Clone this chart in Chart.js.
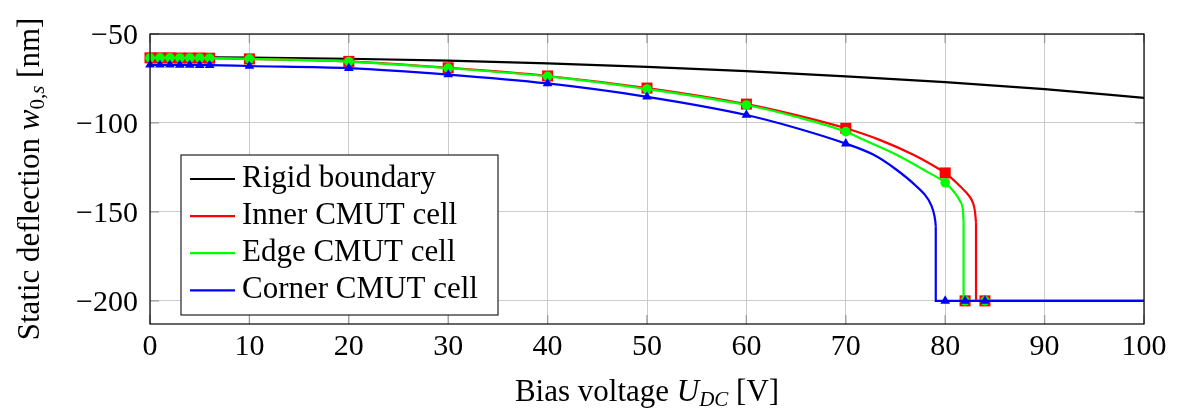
<!DOCTYPE html>
<html>
<head>
<meta charset="utf-8">
<script src="https://cdn.jsdelivr.net/npm/chart.js@4.4.0/dist/chart.umd.min.js"></script>
<style>
    html, body { margin: 0; padding: 0; background: #fff; }
    canvas { display: block; }
</style>
</head>
<body>
<canvas id="deflectionChart" width="1177" height="408"></canvas>
<script>
// Static deflection curves over bias voltage
const rigidVoltage = [0, 10, 20, 30, 40, 50, 60, 70, 80, 90, 100];
const rigidDeflection = [-63.0, -63.2, -63.9, -65.0, -66.5, -68.5, -70.9, -73.8, -77.0, -81.0, -85.9];

// smooth part of each cell curve, up to the pull-in voltage
const innerVoltage = [0, 6, 10, 20, 30, 40, 50, 60, 65, 70, 73.4, 76.8, 79.5, 80, 81.5, 82.4, 82.8, 83.0, 83.1];
const innerDeflection = [-63.4, -63.6, -64.0, -65.4, -69.0, -73.6, -80.4, -89.4, -95.6, -103.0, -109.5, -117.9, -126.3, -128.1, -135.6, -141.0, -145.0, -150.0, -156.0];

const edgeVoltage = [0, 6, 10, 20, 30, 40, 50, 60, 65, 70, 71.8, 75.1, 78.1, 80, 81.0, 81.5, 81.8, 81.85];
const edgeDeflection = [-63.4, -63.6, -64.0, -65.5, -69.2, -73.8, -80.9, -89.9, -96.5, -104.9, -109.5, -117.9, -127.2, -133.6, -139.5, -144.0, -150.0, -156.0];

const cornerVoltage = [0, 6, 10, 20, 30, 40, 50, 60, 65, 70, 72.8, 75.1, 77.1, 78.3, 78.8, 79.0, 79.05];
const cornerDeflection = [-67.3, -67.5, -68.0, -69.2, -72.8, -77.8, -85.3, -95.5, -102.8, -111.6, -117.9, -126.3, -135.6, -143.0, -149.5, -155.0, -158.0];

// collapse after pull-in: drop to the substrate, then stay there
const innerCollapseVoltage = [83.1, 83.1, 100];
const innerCollapseDeflection = [-156.0, -200, -200];
const edgeCollapseVoltage = [81.85, 81.85, 100];
const edgeCollapseDeflection = [-156.0, -200, -200];
const cornerCollapseVoltage = [79.05, 79.05, 100];
const cornerCollapseDeflection = [-158.0, -200, -200];

// simulated sample points
const markerVoltage = [0, 1, 2, 3, 4, 5, 6, 10, 20, 30, 40, 50, 60, 70, 80, 82, 84];
const innerMarkers = [-63.4, -63.4, -63.4, -63.5, -63.5, -63.5, -63.6, -64.0, -65.4, -69.0, -73.6, -80.4, -89.4, -103.0, -128.1, -200, -200];
const edgeMarkers = [-63.4, -63.4, -63.4, -63.5, -63.5, -63.5, -63.6, -64.0, -65.5, -69.2, -73.8, -80.9, -89.9, -104.9, -133.6, -200, -200];
const cornerMarkers = [-67.3, -67.3, -67.3, -67.4, -67.4, -67.5, -67.5, -68.0, -69.2, -72.8, -77.8, -85.3, -95.5, -111.6, -200, -200, -200];

const xTicks = [0, 10, 20, 30, 40, 50, 60, 70, 80, 90, 100];
const yTicks = [-200, -150, -100, -50];

const SERIF = "'Liberation Serif', 'DejaVu Serif', serif";
const LINE_W = 2.2;

function toPoints(xs, ys) {
    return xs.map((x, i) => ({ x: x, y: ys[i] }));
}

function curveSet(label, xs, ys, color, order) {
    return {
        label: label,
        legendEntry: true,
        data: toPoints(xs, ys),
        showLine: true,
        borderColor: color,
        backgroundColor: color,
        borderWidth: LINE_W,
        pointRadius: 0,
        cubicInterpolationMode: 'monotone',
        order: order
    };
}

function collapseSet(label, xs, ys, color, order) {
    return {
        label: label,
        data: toPoints(xs, ys),
        showLine: true,
        borderColor: color,
        backgroundColor: color,
        borderWidth: LINE_W,
        pointRadius: 0,
        tension: 0,
        order: order
    };
}

function markerSet(label, ys, color, style, radius, order) {
    return {
        label: label,
        data: toPoints(markerVoltage, ys),
        showLine: false,
        backgroundColor: color,
        borderWidth: 0,
        pointStyle: style,
        pointRadius: radius,
        pointHoverRadius: radius,
        clip: 10,
        order: order
    };
}

// draws a string made of differently styled pieces (for math in axis titles)
function drawRuns(ctx, runs, x, y) {
    let total = 0;
    runs.forEach(r => {
        ctx.font = r.font;
        r.w = ctx.measureText(r.text).width;
        total += r.w;
    });
    let cx = x - total / 2;
    runs.forEach(r => {
        ctx.font = r.font;
        ctx.fillText(r.text, cx, y + (r.dy || 0));
        cx += r.w;
    });
}

const framePlugin = {
    id: 'frame',
    beforeDatasetsDraw(chart) {
        const { ctx, chartArea: a, scales } = chart;
        ctx.save();
        // inner tick marks on all four sides, under the curves
        ctx.strokeStyle = '#999999';
        ctx.lineWidth = 1.3;
        const tl = 9;
        ctx.beginPath();
        xTicks.forEach(v => {
            const px = scales.x.getPixelForValue(v);
            ctx.moveTo(px, a.bottom); ctx.lineTo(px, a.bottom - tl);
            ctx.moveTo(px, a.top); ctx.lineTo(px, a.top + tl);
        });
        yTicks.forEach(v => {
            const py = scales.y.getPixelForValue(v);
            ctx.moveTo(a.left, py); ctx.lineTo(a.left + tl, py);
            ctx.moveTo(a.right, py); ctx.lineTo(a.right - tl, py);
        });
        ctx.stroke();
        ctx.restore();
    },
    afterDatasetsDraw(chart) {
        const { ctx, chartArea: a } = chart;
        ctx.save();
        // axis box
        ctx.strokeStyle = '#000';
        ctx.lineWidth = 1.2;
        ctx.strokeRect(a.left, a.top, a.right - a.left, a.bottom - a.top);
        ctx.restore();
    },
    afterDraw(chart) {
        const { ctx, chartArea: a } = chart;
        ctx.save();
        ctx.fillStyle = '#000';
        ctx.textBaseline = 'alphabetic';

        // x axis title
        drawRuns(ctx, [
            { text: 'Bias voltage ', font: '31px ' + SERIF },
            { text: 'U', font: 'italic 31px ' + SERIF },
            { text: 'DC', font: 'italic 21px ' + SERIF, dy: 5 },
            { text: ' [V]', font: '31px ' + SERIF }
        ], (a.left + a.right) / 2, 401);

        // y axis title
        ctx.translate(39, (a.top + a.bottom) / 2);
        ctx.rotate(-Math.PI / 2);
        drawRuns(ctx, [
            { text: 'Static deflection ', font: '31px ' + SERIF },
            { text: 'w', font: 'italic 31px ' + SERIF },
            { text: '0,', font: '21px ' + SERIF, dy: 5 },
            { text: 's', font: 'italic 21px ' + SERIF, dy: 5 },
            { text: ' [nm]', font: '31px ' + SERIF }
        ], 0, 0);
        ctx.restore();

        // legend box inside the plot
        const box = { left: 181, top: 155, width: 317, height: 160 };
        ctx.save();
        ctx.fillStyle = '#fff';
        ctx.fillRect(box.left, box.top, box.width, box.height);
        ctx.strokeStyle = '#222';
        ctx.lineWidth = 1.2;
        ctx.strokeRect(box.left, box.top, box.width, box.height);
        const entries = chart.data.datasets.filter(d => d.legendEntry);
        ctx.font = '31px ' + SERIF;
        ctx.textBaseline = 'alphabetic';
        entries.forEach((d, i) => {
            const ly = box.top + 24 + i * 37.1;
            ctx.strokeStyle = d.borderColor;
            ctx.lineWidth = LINE_W;
            ctx.beginPath();
            ctx.moveTo(box.left + 9, ly);
            ctx.lineTo(box.left + 54, ly);
            ctx.stroke();
            ctx.fillStyle = '#000';
            ctx.fillText(d.label, box.left + 61, ly + 8);
        });
        ctx.restore();
    }
};

const minusLabel = v => String(v).replace('-', '\u2212');

new Chart(document.getElementById('deflectionChart'), {
    type: 'scatter',
    data: {
        datasets: [
            curveSet('Rigid boundary', rigidVoltage, rigidDeflection, '#000000', 9),
            curveSet('Inner CMUT cell', innerVoltage, innerDeflection, '#ff0000', 8),
            curveSet('Edge CMUT cell', edgeVoltage, edgeDeflection, '#00ff00', 5),
            curveSet('Corner CMUT cell', cornerVoltage, cornerDeflection, '#0000ff', 2),
            collapseSet('Inner collapse', innerCollapseVoltage, innerCollapseDeflection, '#ff0000', 7),
            collapseSet('Edge collapse', edgeCollapseVoltage, edgeCollapseDeflection, '#00ff00', 4),
            collapseSet('Corner collapse', cornerCollapseVoltage, cornerCollapseDeflection, '#0000ff', 2),
            markerSet('Inner samples', innerMarkers, '#ff0000', 'rect', 7.8, 6),
            markerSet('Edge samples', edgeMarkers, '#00ff00', 'circle', 4.8, 3),
            markerSet('Corner samples', cornerMarkers, '#0000ff', 'triangle', 5.6, 1)
        ]
    },
    options: {
        responsive: false,
        animation: false,
        layout: { padding: { top: 34, right: 33, left: 0, bottom: 0 } },
        plugins: {
            legend: { display: false },
            tooltip: { enabled: false }
        },
        scales: {
            x: {
                type: 'linear',
                min: 0,
                max: 100,
                afterBuildTicks: scale => { scale.ticks = xTicks.map(v => ({ value: v })); },
                afterFit: scale => { scale.height = 84; },
                grid: { color: '#cccccc', lineWidth: 1, drawTicks: false },
                border: { display: false },
                ticks: {
                    color: '#000',
                    padding: 5,
                    maxRotation: 0,
                    font: { family: SERIF, size: 30 },
                    callback: minusLabel
                }
            },
            y: {
                type: 'linear',
                min: -213,
                max: -50,
                afterBuildTicks: scale => { scale.ticks = yTicks.map(v => ({ value: v })); },
                afterFit: scale => { scale.width = 150; },
                grid: { color: '#cccccc', lineWidth: 1, drawTicks: false },
                border: { display: false },
                ticks: {
                    color: '#000',
                    padding: 12,
                    labelOffset: 2,
                    font: { family: SERIF, size: 30 },
                    callback: minusLabel
                }
            }
        }
    },
    plugins: [framePlugin]
});
</script>
</body>
</html>
